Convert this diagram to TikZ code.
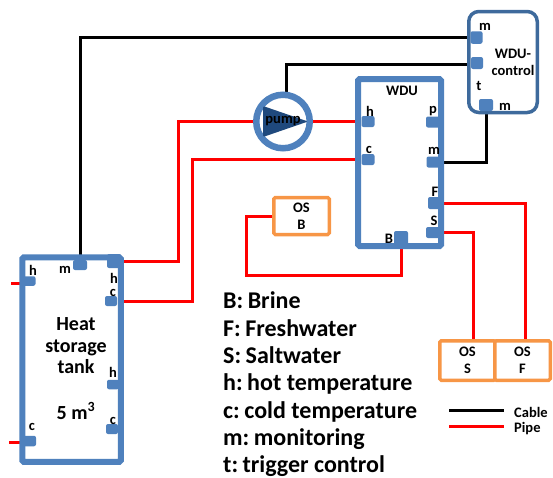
\documentclass[tikz,border=0pt]{standalone}
\usepackage{fontspec}
\setmainfont{Carlito}
\usetikzlibrary{backgrounds}
\definecolor{blu}{HTML}{4F81BD}
\definecolor{dblu}{HTML}{3E6A9C}
\definecolor{navy}{HTML}{1F497D}
\definecolor{org}{HTML}{F79646}
\newcommand{\cs}{\hspace{4.5pt}}
\tikzset{
 x=1pt,y=-1pt,
 portbox/.style={fill=blu,draw=none,rounded corners=2pt,inner sep=0pt,minimum width=#1,minimum height=11pt},
 portbox/.default=13pt,
 wall/.style={draw=blu,line width=6pt,fill=white,rounded corners=1.5pt,inner sep=0pt,outer sep=3pt},
 osbox/.style={draw=org,line width=3.5pt,fill=white,rounded corners=1.5pt,inner sep=0pt,outer sep=1.75pt,align=center,font=\bfseries\fontsize{14.5}{17}\selectfont},
 pipe/.style={draw=red,line width=3pt},
 cable/.style={draw=black,line width=3pt},
 tiny/.style={font=\bfseries\fontsize{14.5}{12}\selectfont,inner sep=0pt},
 big/.style={font=\bfseries\fontsize{20}{21.5}\selectfont,inner sep=0pt,align=center},
 item/.style={font=\bfseries\fontsize{24}{24}\selectfont,inner sep=0pt,anchor=base west},
}
\begin{document}
\begin{tikzpicture}
\useasboundingbox (0,0) rectangle (553,477);
% boxes
\node[wall,minimum width=83pt,minimum height=167pt] (wdu) at (399.5,162.5) {};
\node[wall,minimum width=98.5pt,minimum height=204.5pt] (tank) at (71.5,359.5) {};
\node[draw=dblu,line width=3.5pt,fill=white,rounded corners=10pt,inner sep=0pt,outer sep=1.75pt,minimum width=68.5pt,minimum height=101pt] (ctrl) at (503,62) {};
\node[draw=blu,line width=6.5pt,fill=white,circle,inner sep=0pt,outer sep=3.25pt,minimum size=53.5pt] (pump) at (283,121.5) {};
\fill[navy,rounded corners=2pt] (263,106) -- (308,121.5) -- (263,137) -- cycle;
\node[osbox,minimum width=55.5pt,minimum height=37pt] (osb) at (301.5,216) {OS\\B};
\node[osbox,minimum width=55.5pt,minimum height=39.5pt] (oss) at (467.5,360.5) {OS\\S};
\node[osbox,minimum width=55.5pt,minimum height=39.5pt] (osf) at (522.5,360.5) {OS\\F};
% ports
\node[portbox=12pt,minimum height=12.5pt] (cm1) at (476.5,37.5) {};
\node[portbox=12pt,minimum height=12pt] (cm2) at (477,63) {};
\node[portbox=14pt,minimum height=12pt] (cm3) at (486,105) {};
\node[portbox] (wh) at (368,121.5) {};
\node[portbox] (wc) at (368,159.5) {};
\node[portbox=14pt] (wp) at (433,122) {};
\node[portbox=15pt] (wm) at (434,162) {};
\node[portbox=14pt,minimum height=12pt] (wf) at (435,203) {};
\node[portbox=14pt] (ws) at (433,232.5) {};
\node[portbox=14pt,minimum height=14pt] (wb) at (401,238) {};
\node[portbox=14pt,minimum height=10pt] (tm) at (80,265) {};
\node[portbox=14pt,minimum height=14pt] (tp) at (114,261) {};
\node[portbox=12pt,minimum height=10pt] (tc) at (111,301) {};
\node[portbox=12pt,minimum height=9.5pt] (th2) at (113,384.5) {};
\node[portbox=12pt,minimum height=10pt] (tc2) at (112,429) {};
\node[portbox=13pt,minimum height=9.5pt] (thl) at (29,281) {};
\node[portbox=14pt,minimum height=10.5pt] (tcl) at (29,441) {};
% bends and free ends
\coordinate (bh) at (178,121.5);
\coordinate (bc) at (192.5,159.5);
\coordinate (bb) at (246,275);
\coordinate (lh) at (11,283);
\coordinate (lc) at (9,442);
\coordinate (leg1) at (449,410);
\coordinate (leg2) at (504,410);
\coordinate (leg3) at (449,426);
\coordinate (leg4) at (504,426);
% connectors
\begin{scope}[on background layer]
\draw[pipe] (tp.east) -| (bh) -- (pump.west);
\draw[pipe] (tc.east) -| (bc) -- (wc.west);
\draw[pipe] (pump.east) -- (wh.west);
\draw[pipe] (wf.east) -| ([xshift=2.5pt]osf.north);
\draw[pipe] (ws.east) -| ([xshift=6pt]oss.north);
\draw[pipe] (wb.south) |- (bb) |- (osb.west);
\draw[pipe] (lh) -- (lh -| thl.west);
\draw[pipe] (lc) -- (lc -| tcl.west);
\draw[cable] (tm.north) |- (cm1.west);
\draw[cable] (pump.84) |- (cm2.193);
\draw[cable] (wm.east) -| (cm3.south);
\end{scope}
\draw[cable] (leg1) -- (leg2);
\draw[pipe] (leg3) -- (leg4);
% labels
\node[tiny] (lpump) at (283,121) {pump};
\node[tiny] (lcm1) at (485,27) {m};
\node[tiny,align=center] (lctrl) at (513,62.5) {WDU-\\[5pt]control};
\node[tiny] (lct) at (479,86) {t};
\node[tiny] (lcm3) at (505,107) {m};
\node[tiny] (lwdu) at (402,91) {WDU};
\node[tiny] (lwh) at (370,111) {h};
\node[tiny] (lwc) at (369,150) {c};
\node[tiny] (lwp) at (433,111) {p};
\node[tiny] (lwm) at (434,151) {m};
\node[tiny] (lwf) at (435,192) {F};
\node[tiny] (lws) at (434,221) {S};
\node[tiny] (lwb) at (389,239) {B};
\node[tiny] (lthl) at (33,270) {h};
\node[tiny] (ltm) at (65,270) {m};
\node[tiny] (lth) at (114,278) {h};
\node[tiny] (ltc) at (113,293) {c};
\node[tiny] (lth2) at (113,372) {h};
\node[tiny] (ltc2) at (113,421) {c};
\node[tiny] (ltcl) at (32,427) {c};
\node[big] (ltank) at (76,346) {Heat\\storage\\tank};
\node[big] (lvol) at (76,411) {5 m\textsuperscript{3}};
\node[item] (i1) at (223,308.5) {B:\cs Brine};
\node[item] (i2) at (223,336) {F:\cs Freshwater};
\node[item] (i3) at (223,363) {S:\cs Saltwater};
\node[item] (i4) at (223,390.5) {h:\cs hot temperature};
\node[item] (i5) at (223,418) {c:\cs cold temperature};
\node[item] (i6) at (223,445) {m:\cs monitoring};
\node[item] (i7) at (223,472) {t:\cs trigger control};
\node[tiny,anchor=west] (lcable) at (514,412) {Cable};
\node[tiny,anchor=west] (lpipe) at (514,429) {Pipe};
\end{tikzpicture}
\end{document}
